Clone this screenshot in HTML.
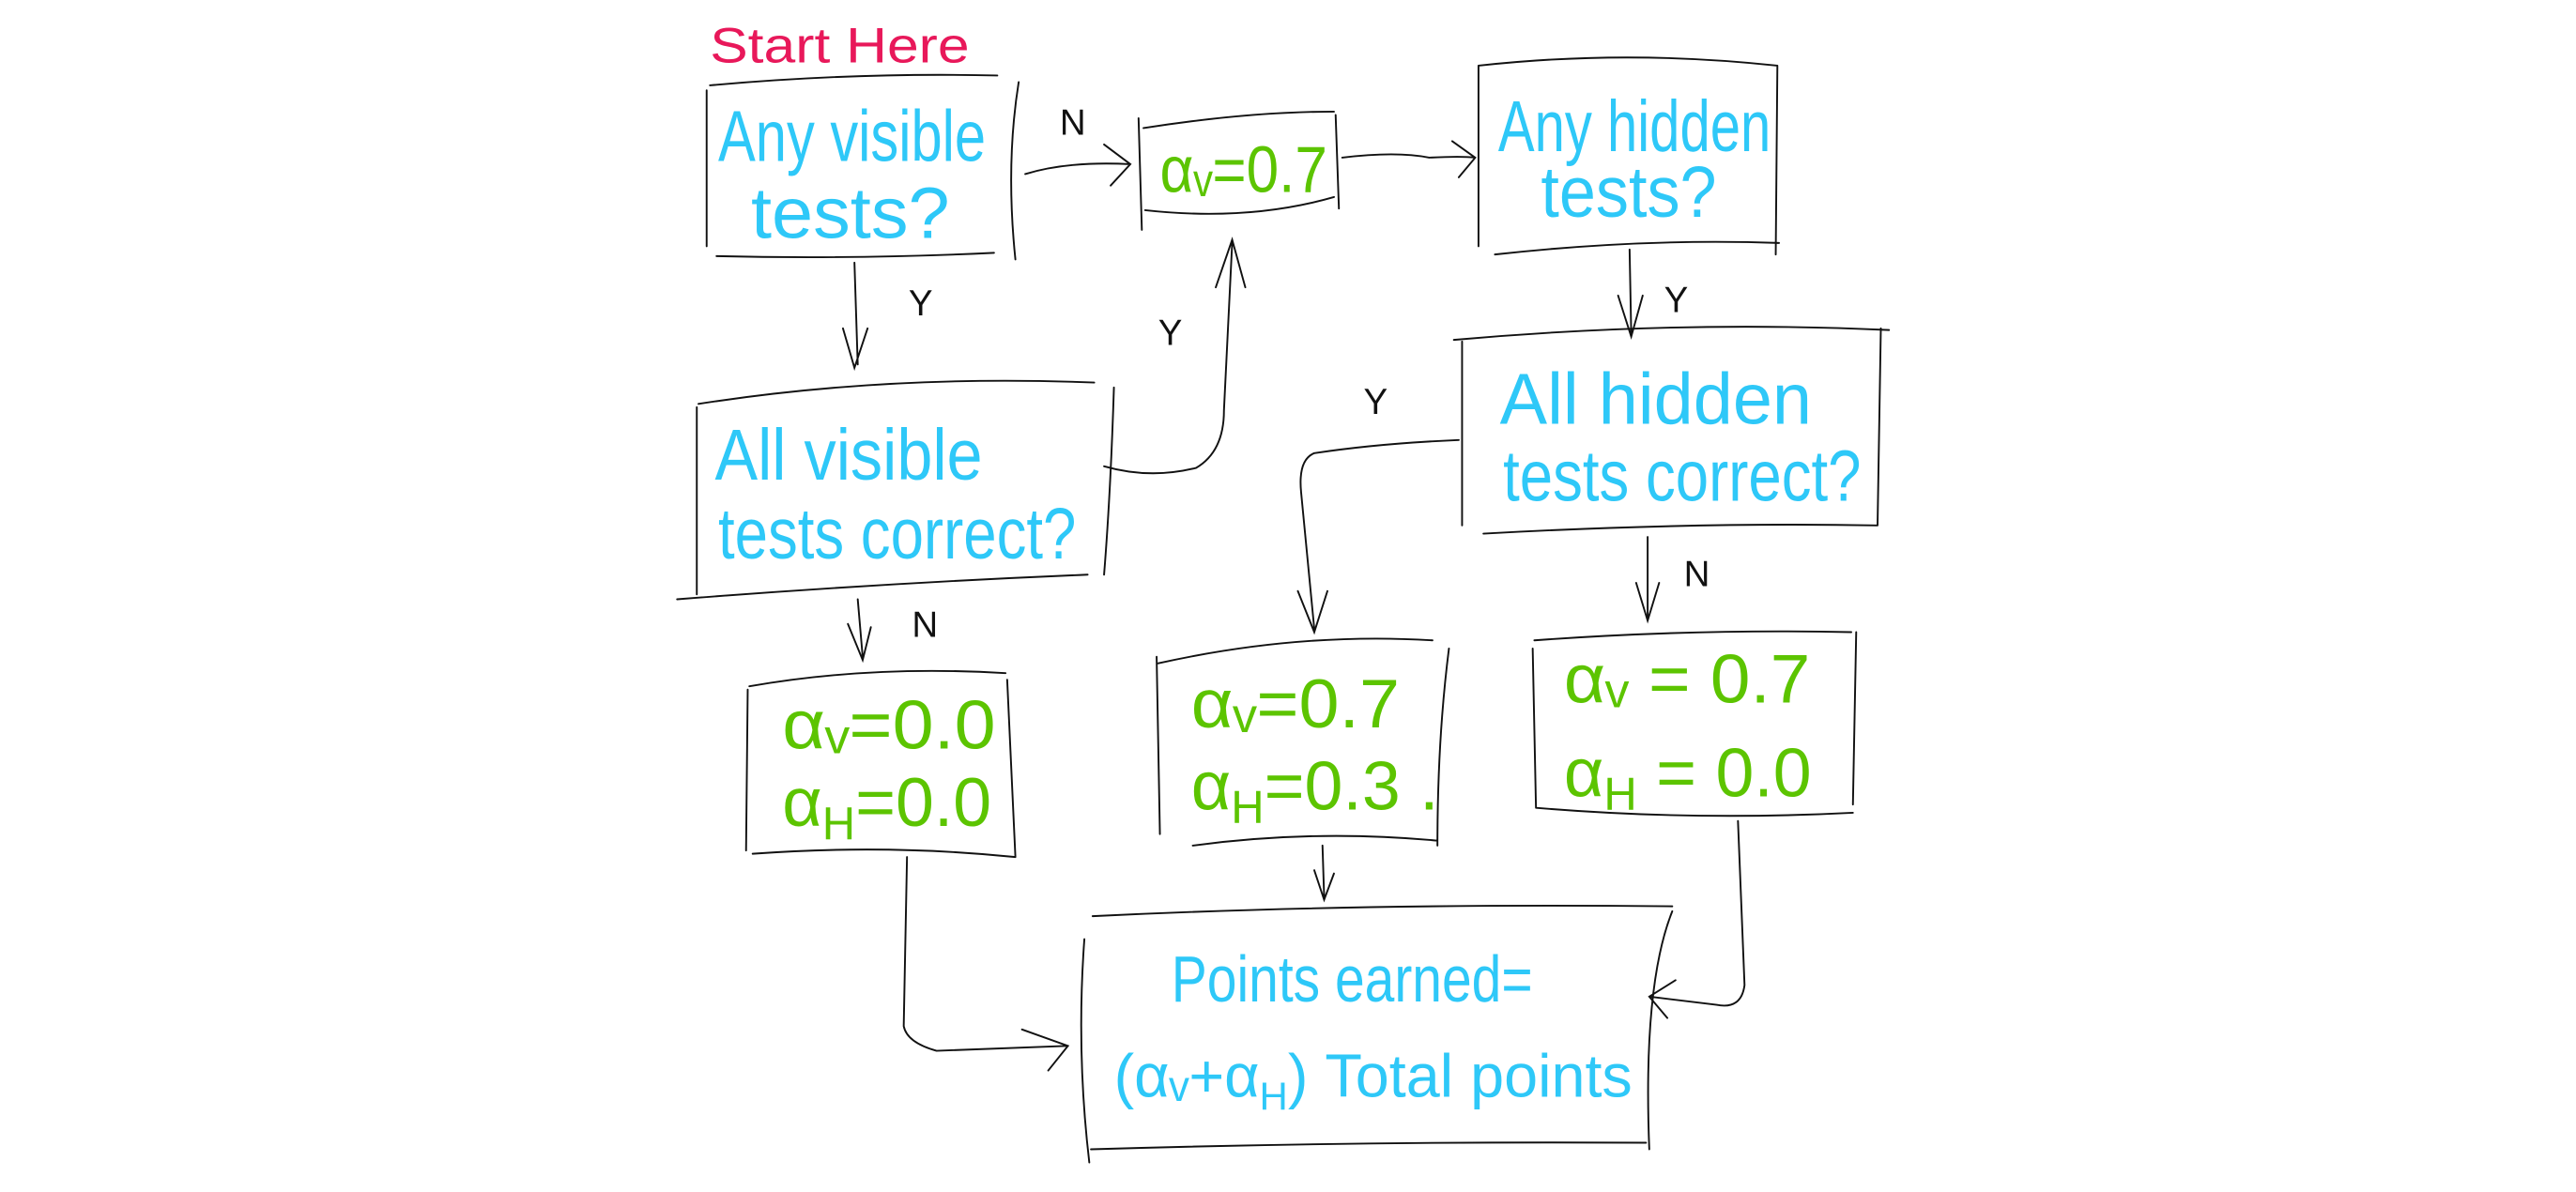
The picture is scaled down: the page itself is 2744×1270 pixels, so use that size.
<!DOCTYPE html>
<html><head><meta charset="utf-8"><style>
html,body{margin:0;padding:0;background:#fff;}
svg{display:block;}
.c{fill:#2ec8f8;font-family:"Liberation Sans",sans-serif;}
.g{fill:#5cc400;font-family:"Liberation Sans",sans-serif;}
.l{fill:none;stroke:#111;stroke-width:1.1;stroke-linecap:round;}
.t{fill:#111;font-family:"Liberation Sans",sans-serif;font-size:22px;}
</style></head><body>
<svg width="2744" height="1270" viewBox="0 0 1568 726" xmlns="http://www.w3.org/2000/svg">
<text x="432" y="38" font-family="Liberation Sans,sans-serif" font-size="30" fill="#e8185a" textLength="158" lengthAdjust="spacingAndGlyphs">Start Here</text>

<path class="l" d="M432 52 Q520 44 607 46 M430 55 L430 150 M620 50 Q612 100 618 158 M436 156 Q520 158 605 154"/>
<text class="c" x="437" y="98" font-size="44" textLength="163" lengthAdjust="spacingAndGlyphs">Any visible</text>
<text class="c" x="457" y="145" font-size="44" textLength="121" lengthAdjust="spacingAndGlyphs">tests?</text>

<path class="l" d="M696 78 Q760 68 812 68 M693 72 L695 140 M813 70 L815 127 M697 128 Q760 135 812 120"/>
<text class="g" x="706" y="117" font-size="40" textLength="102" lengthAdjust="spacingAndGlyphs">αᵥ=0.7</text>

<path class="l" d="M900 40 Q990 30 1082 40 M900 40 L900 150 M1082 40 L1081 155 M910 155 Q1000 145 1083 148"/>
<text class="c" x="912" y="92" font-size="44" textLength="166" lengthAdjust="spacingAndGlyphs">Any hidden</text>
<text class="c" x="938" y="132" font-size="44" textLength="107" lengthAdjust="spacingAndGlyphs">tests?</text>

<path class="l" d="M425 246 Q540 228 666 233 M424 248 L424 362 M678 236 Q676 300 672 350 M412 365 Q540 355 662 350"/>
<text class="c" x="435" y="292" font-size="44" textLength="163" lengthAdjust="spacingAndGlyphs">All visible</text>
<text class="c" x="437" y="340" font-size="44" textLength="218" lengthAdjust="spacingAndGlyphs">tests correct?</text>

<path class="l" d="M885 207 Q1020 195 1150 201 M890 208 L890 320 M1145 200 L1143 320 M903 325 Q1030 318 1143 320"/>
<text class="c" x="913" y="258" font-size="44" textLength="190" lengthAdjust="spacingAndGlyphs">All hidden</text>
<text class="c" x="915" y="305" font-size="44" textLength="218" lengthAdjust="spacingAndGlyphs">tests correct?</text>

<path class="l" d="M456 418 Q530 405 612 410 M455 420 L454 518 M613 414 L618 522 M458 520 Q540 514 618 522"/>
<text class="g" x="476" y="456" font-size="42" textLength="130" lengthAdjust="spacingAndGlyphs">αᵥ=0.0</text>
<text class="g" x="476" y="503" font-size="42">α<tspan font-size="28" dy="8">H</tspan><tspan dy="-8">=0.0</tspan></text>

<path class="l" d="M705 404 Q790 385 872 390 M704 400 L706 508 M882 395 Q875 450 875 515 M726 515 Q800 505 875 512"/>
<text class="g" x="725" y="443" font-size="42" textLength="127" lengthAdjust="spacingAndGlyphs">αᵥ=0.7</text>
<text class="g" x="725" y="493" font-size="42">α<tspan font-size="28" dy="8">H</tspan><tspan dy="-8">=0.3 .</tspan></text>

<path class="l" d="M934 390 Q1030 383 1127 385 M933 395 L935 492 M1130 385 L1128 490 M935 492 Q1030 500 1128 495"/>
<text class="g" x="952" y="428" font-size="42" textLength="150" lengthAdjust="spacingAndGlyphs">αᵥ = 0.7</text>
<text class="g" x="952" y="485" font-size="42">α<tspan font-size="28" dy="8">H</tspan><tspan dy="-8"> = 0.0</tspan></text>

<path class="l" d="M665 558 Q830 550 1018 552 M660 572 Q655 640 663 708 M1018 555 Q1000 600 1004 700 M664 700 Q830 695 1002 696"/>
<text class="c" x="713" y="610" font-size="40" textLength="220" lengthAdjust="spacingAndGlyphs">Points earned=</text>
<text class="c" x="678" y="668" font-size="37">(αᵥ+α<tspan font-size="24" dy="8">H</tspan><tspan dy="-8">) Total points</tspan></text>

<path class="l" d="M624 106 Q650 98 688 100 M672 88 L688 100 L676 113"/>
<text class="t" x="645" y="82">N</text>
<path class="l" d="M817 96 Q850 92 870 96 Q890 95 898 96 M884 86 L898 96 L888 108"/>
<path class="l" d="M520 160 L522 222 M513 200 L520 224 L528 200"/>
<text class="t" x="553" y="192">Y</text>
<path class="l" d="M672 284 Q700 292 728 285 Q745 275 745 250 L750 148 M740 175 L750 146 L758 175"/>
<text class="t" x="705" y="210">Y</text>
<path class="l" d="M992 152 L993 203 M985 180 L993 205 L1000 180"/>
<text class="t" x="1013" y="190">Y</text>
<path class="l" d="M888 268 Q840 270 800 276 Q790 280 792 300 L800 383 M790 360 L800 385 L808 360"/>
<text class="t" x="830" y="252">Y</text>
<path class="l" d="M522 365 L525 400 M516 380 L525 402 L530 382"/>
<text class="t" x="555" y="388">N</text>
<path class="l" d="M1003 327 L1003 376 M996 355 L1003 378 L1010 355"/>
<text class="t" x="1025" y="357">N</text>
<path class="l" d="M805 515 L806 546 M800 530 L806 548 L812 532"/>
<path class="l" d="M552 522 L550 625 Q552 635 570 640 L650 637 M622 627 L650 637 L638 652"/>
<path class="l" d="M1058 500 L1062 600 Q1060 615 1045 612 L1004 607 M1020 597 L1004 607 L1015 620"/>
</svg>
</body></html>
